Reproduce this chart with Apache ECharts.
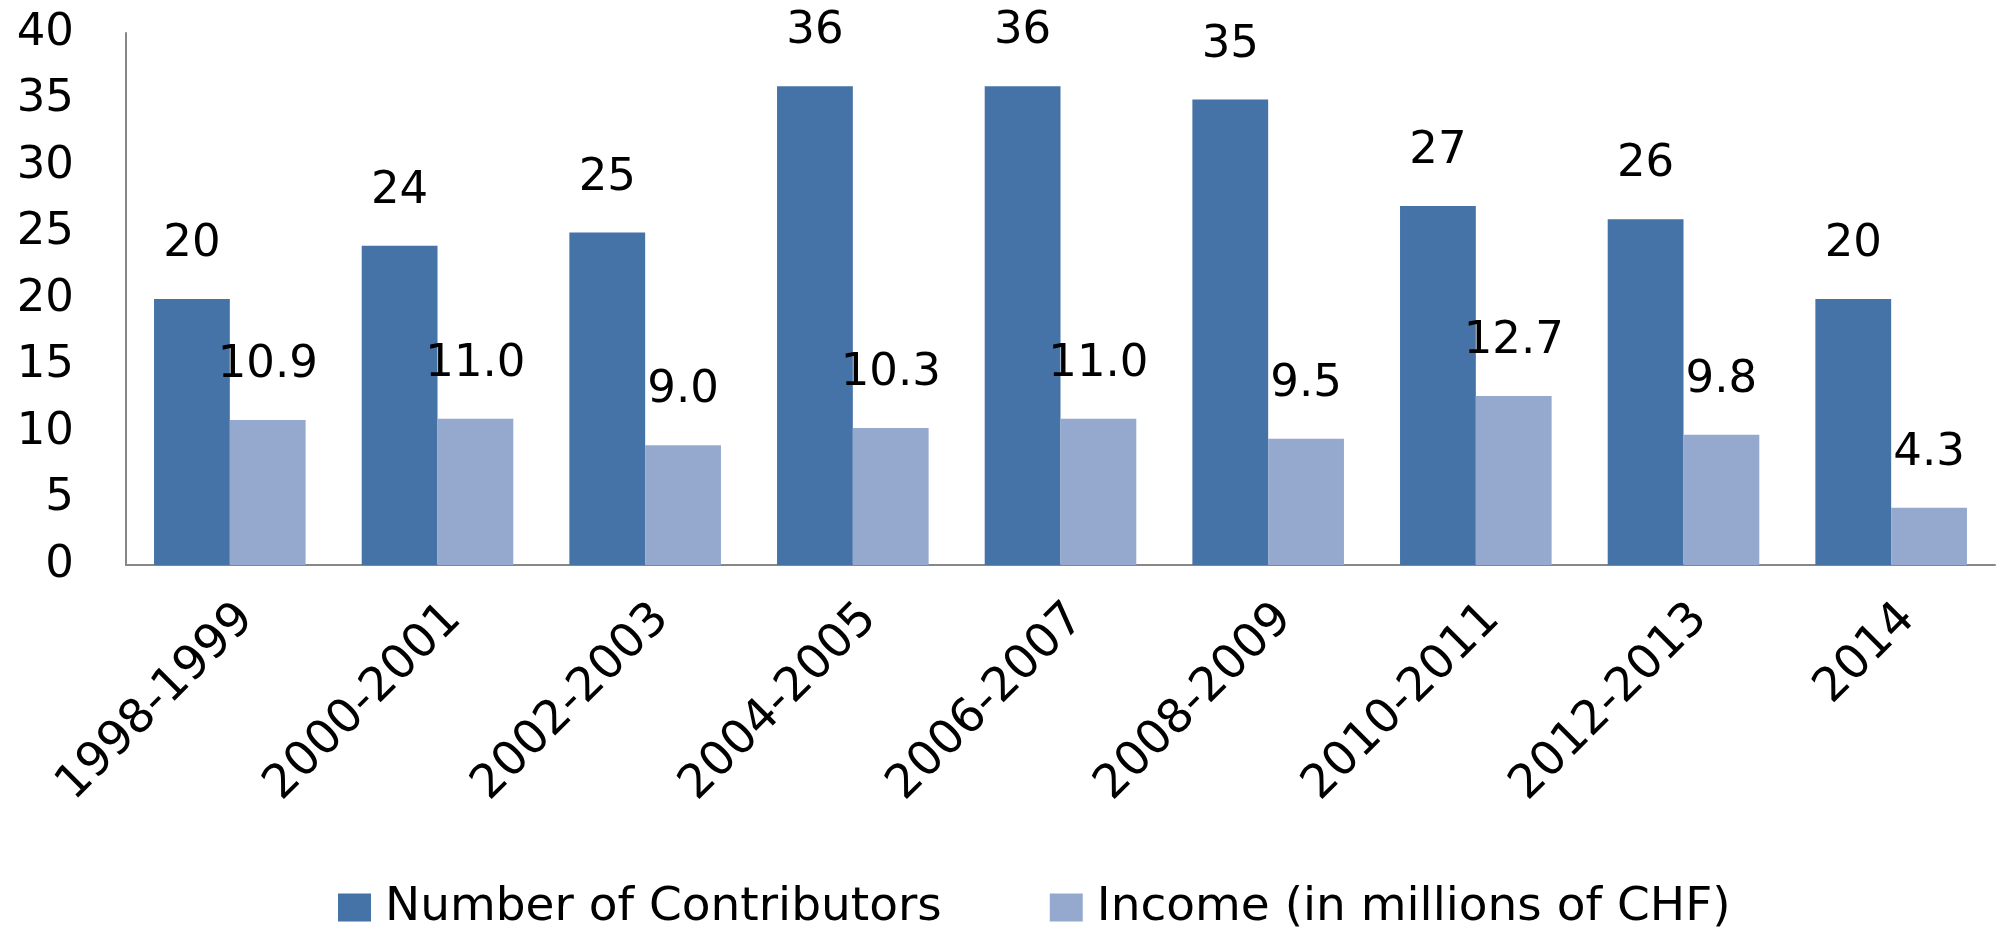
<!DOCTYPE html>
<html>
<head>
<meta charset="UTF-8">
<title>Contributors and income</title>
<style>
  html, body { margin: 0; padding: 0; background: #fff; }
  #chart { width: 2002px; height: 929px; }
</style>
</head>
<body>
<div id="chart"></div>
<script src="https://cdn.jsdelivr.net/npm/echarts@6/dist/echarts.min.js"></script>
<script>
// categories (periods)
var periods = ['1998-1999', '2000-2001', '2002-2003', '2004-2005', '2006-2007',
               '2008-2009', '2010-2011', '2012-2013', '2014'];
// number of contributors
var contributors = [20, 24, 25, 36, 36, 35, 27, 26, 20];
// income in millions of CHF
var income = [10.9, 11.0, 9.0, 10.3, 11.0, 9.5, 12.7, 9.8, 4.3];
var seriesNames = ['Number of Contributors', 'Income (in millions of CHF)'];

var FONT = 'DejaVu Sans';
var chart = echarts.init(document.getElementById('chart'));

var option = {
  backgroundColor: '#fff',
  color: ['#4573a7', '#95a9cf'],
  animation: false,
  textStyle: { fontFamily: FONT },
  grid: { left: 126, right: 7, top: 33, bottom: 364 },
  legend: {
    left: 333,
    top: 879,
    itemWidth: 33,
    itemHeight: 28,
    itemGap: 108,
    icon: 'rect',
    textStyle: { fontFamily: FONT, fontSize: 47, color: '#000', padding: [0, 0, 0, 9] },
    data: seriesNames
  },
  xAxis: {
    type: 'category',
    data: periods,
    axisTick: { show: false },
    axisLine: { lineStyle: { color: '#878787', width: 2 } },
    axisLabel: {
      rotate: 45,
      margin: 30,
      interval: 0,
      verticalAlign: 'top',
      color: '#000',
      fontFamily: FONT,
      fontSize: 47
    }
  },
  yAxis: {
    type: 'value',
    min: 0,
    max: 40,
    interval: 5,
    axisLine: { show: true, lineStyle: { color: '#878787', width: 2 } },
    axisTick: { show: false },
    splitLine: { show: false },
    axisLabel: { margin: 52, color: '#000', fontFamily: FONT, fontSize: 45 }
  },
  series: [{
    name: seriesNames[0],
    type: 'bar',
    data: contributors,
    barGap: '0%',
    barCategoryGap: '27%',
    label: {
      show: true,
      position: 'top',
      distance: 32,
      color: '#000',
      fontFamily: FONT,
      fontSize: 45
    }
  }, {
    name: seriesNames[1],
    type: 'bar',
    data: income,
    barGap: '0%',
    barCategoryGap: '27%',
    label: {
      show: true,
      position: 'top',
      distance: 32,
      color: '#000',
      fontFamily: FONT,
      fontSize: 45,
      formatter: function (p) { return p.value.toFixed(1); }
    }
  }]
};
chart.setOption(option);
</script>
</body>
</html>
